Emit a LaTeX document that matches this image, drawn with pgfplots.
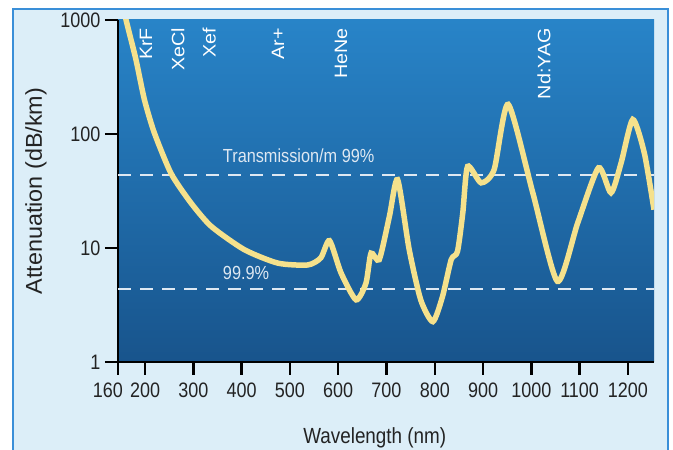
\documentclass[border=0pt]{standalone}
\usepackage{fontspec}
\setmainfont{Liberation Sans}[FakeStretch=0.86]
\newfontfamily\condfont{Liberation Sans}[FakeStretch=0.86]
\newfontfamily\widefont{Liberation Sans}[FakeStretch=1.02]
\newfontfamily\laserfont{Liberation Sans}[FakeStretch=1.1]
\usepackage{pgfplots}
\pgfplotsset{compat=1.18}
\definecolor{framebg}{RGB}{220,238,248}
\definecolor{frameline}{RGB}{58,143,216}
\definecolor{plottop}{RGB}{40,132,200}
\definecolor{plotbot}{RGB}{24,84,140}
\definecolor{curve}{RGB}{245,225,140}
\definecolor{dashc}{RGB}{222,232,242}
\definecolor{labc}{RGB}{35,35,35}
\begin{document}
\begin{tikzpicture}
\fill[white] (0,0) rectangle (673bp,450bp);
\fill[framebg] (13bp,-2bp) rectangle (668bp,441bp);
\draw[frameline, line width=2bp] (13bp,-2bp) -- (13bp,441bp) -- (668bp,441bp) -- (668bp,-2bp);
\begin{axis}[
  at={(118bp,88bp)}, anchor=south west,
  scale only axis, width=536bp, height=342bp,
  ymode=log, xmin=144, xmax=1254, ymin=1, ymax=1000,
  axis x line*=bottom, axis y line*=left,
  axis line style={-, black, line width=2.5bp},
  axis background/.style={top color=plottop, bottom color=plotbot},
  xtick={144,200,300,400,500,600,700,800,900,1000,1100,1200},
  xticklabels={\makebox[0pt][r]{160\kern-5bp},200,300,400,500,600,700,800,900,1000,1100,1200},
  ytick={1,10,100,1000}, yticklabels={1,10,100,1000},
  yminorticks=false,
  tick align=outside, major tick length=13bp,
  tick style={black, line width=2.5bp},
  /pgf/number format/assume math mode=true,
  ticklabel style={font=\fontsize{21}{23}\selectfont, text=labc},
  xticklabel style={yshift=-4bp},
  yticklabel style={xshift=-1bp},
  xlabel={Wavelength (nm)}, ylabel={Attenuation (dB/km)},
  xlabel style={at={(axis description cs:0.479,-0.237)}, anchor=base, font=\condfont\fontsize{22}{24}\selectfont, text=labc},
  ylabel style={at={(axis description cs:-0.153,0.5)}, anchor=center, rotate=0, font=\widefont\fontsize{23}{25}\selectfont, text=labc},
  clip=true,
]
\addplot[dashc, line width=2.2bp, dash pattern=on 13bp off 9bp] coordinates {(144,43.6) (1254,43.6)};
\addplot[dashc, line width=2.2bp, dash pattern=on 13bp off 9bp] coordinates {(144,4.36) (1254,4.36)};
\addplot[curve, line width=5.5bp, smooth, tension=0.4] coordinates {
(157,1250) (160.7,1000) (181,453) (198.6,201) (219,103) (254,45) (295,24.9) (337,15.5)
(405.6,9.67) (475,7.37) (537,7.1) (564,8.2) (582,11.6) (606,6.03) (637,3.51) (657.5,4.92)
(668,9.0) (685,7.9) (706,18.9) (723,39.8) (747,9.7) (771,3.5) (796,2.26) (816,3.75)
(834,7.9) (847,9.3) (858,20.3) (868,52) (896,37.3) (923,48.8) (952,182) (1003,30.5)
(1054,5.1) (1096,16.6) (1139,50.5) (1165,30.5) (1186,56) (1210,134) (1234,68) (1254,21.7)
};
\begin{scope}[every node/.style={text=white, rotate=90, anchor=east, font=\laserfont\fontsize{18}{20}\selectfont, inner sep=0pt}]
\node at ([yshift=-8bp]axis cs:202,1000) {KrF};
\node at ([yshift=-8bp]axis cs:268,1000) {XeCl};
\node at ([yshift=-8bp]axis cs:333,1000) {Xef};
\node at ([yshift=-8bp]axis cs:475,1000) {Ar+};
\node at ([yshift=-8bp]axis cs:606,1000) {HeNe};
\node at ([yshift=-8bp]axis cs:1026,1000) {Nd:YAG};
\end{scope}
\node[text=dashc, anchor=base west, inner sep=0pt, font=\condfont\fontsize{19}{21}\selectfont] at (axis cs:361,56.3) {Transmission/m 99\%};
\node[text=dashc, anchor=base west, inner sep=0pt, font=\condfont\fontsize{19}{21}\selectfont] at (axis cs:361,5.26) {99.9\%};
\end{axis}
\pgfresetboundingbox
\useasboundingbox (0,0) rectangle (673bp,450bp);
\end{tikzpicture}
\end{document}
